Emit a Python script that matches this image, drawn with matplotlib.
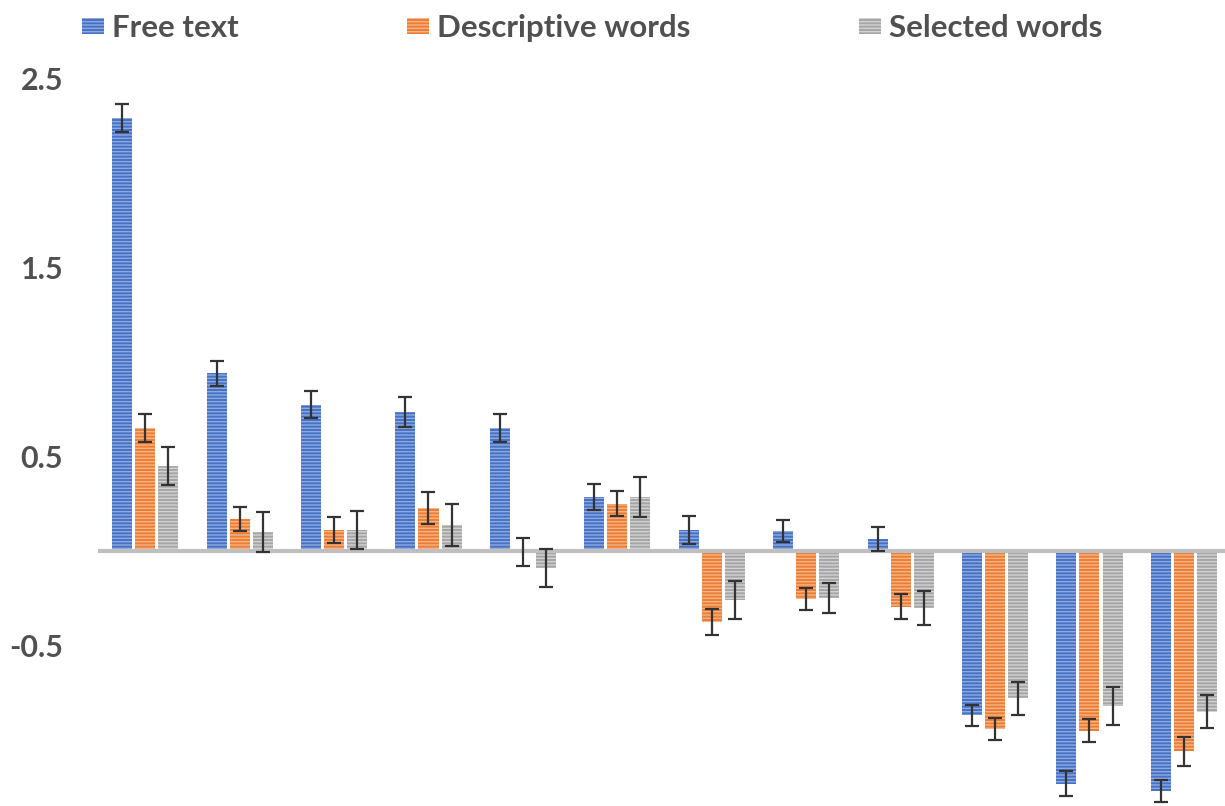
import numpy as np
import matplotlib
matplotlib.use("Agg")
import matplotlib.pyplot as plt

#-------------------------------------------------------------------------------
# DATA
#-------------------------------------------------------------------------------
series_names = ["Free text", "Descriptive words", "Selected words"]

free_text = [2.29, 0.94, 0.775, 0.737, 0.65, 0.287, 0.111, 0.106, 0.063, -0.87, -1.23, -1.27]
descriptive = [0.65, 0.17, 0.11, 0.227, -0.005, 0.249, -0.376, -0.254, -0.295, -0.94, -0.95, -1.06]
selected = [0.45, 0.10, 0.11, 0.137, -0.09, 0.287, -0.26, -0.249, -0.302, -0.78, -0.82, -0.85]

free_err = [0.074, 0.067, 0.07, 0.08, 0.075, 0.07, 0.074, 0.058, 0.065, 0.055, 0.067, 0.06]
descr_err = [0.073, 0.065, 0.07, 0.085, 0.075, 0.066, 0.07, 0.058, 0.066, 0.058, 0.063, 0.075]
sel_err = [0.1, 0.105, 0.10, 0.11, 0.1, 0.105, 0.1, 0.08, 0.09, 0.085, 0.1, 0.087]

y_ticks = [-0.5, 0.5, 1.5, 2.5]
y_tick_labels = ["-0.5", "0.5", "1.5", "2.5"]

#-------------------------------------------------------------------------------
# STYLE
#-------------------------------------------------------------------------------
plt.rcParams['font.family'] = ['Lato', 'DejaVu Sans']
plt.rcParams['hatch.linewidth'] = 1.0

colors = ["#4472C4", "#ED7D31", "#A5A5A5"]
stripe_colors = ["#8FA9E0", "#F6B48A", "#D2D2D2"]
text_color = "#505050"

fig = plt.figure(figsize=(12.25, 8.06), dpi=100)
ax = fig.add_axes([0.08, 0.0, 0.925, 0.9256])

x = np.arange(len(free_text))
width = 0.212
offsets = [-0.244, 0.0, 0.244]
values = [free_text, descriptive, selected]
errors = [free_err, descr_err, sel_err]

handles = []
for i in range(3):
    bars = ax.bar(x + offsets[i], values[i], width, color=colors[i],
                  edgecolor=stripe_colors[i], hatch='-----', linewidth=0,
                  label=series_names[i], zorder=2)
    handles.append(bars)
    ax.errorbar(x + offsets[i], values[i], yerr=errors[i], fmt='none',
                ecolor="#333333", elinewidth=1.6, capsize=5, capthick=1.6,
                zorder=4)

#zero line
ax.axhline(0, color="#BFBFBF", linewidth=3, zorder=3)

ax.set_xlim(-0.5, 11.5)
ax.set_ylim(-1.349, 2.598)
ax.set_xticks([])
ax.set_yticks(y_ticks)
ax.set_yticklabels(y_tick_labels, fontsize=22, fontweight='bold', color=text_color)
ax.tick_params(axis='y', length=0, pad=25)
for side in ['top', 'right', 'bottom', 'left']:
    ax.spines[side].set_visible(False)

fig.legend(handles=handles, labels=series_names, loc='upper left',
           bbox_to_anchor=(0.054, 1.002), ncol=3, frameon=False,
           prop={'size': 22.5, 'weight': 'bold'}, labelcolor=text_color,
           borderpad=0, handlelength=0.7, handleheight=0.42, handletextpad=0.26,
           columnspacing=5.4)

fig.savefig("out.png", dpi=100)
